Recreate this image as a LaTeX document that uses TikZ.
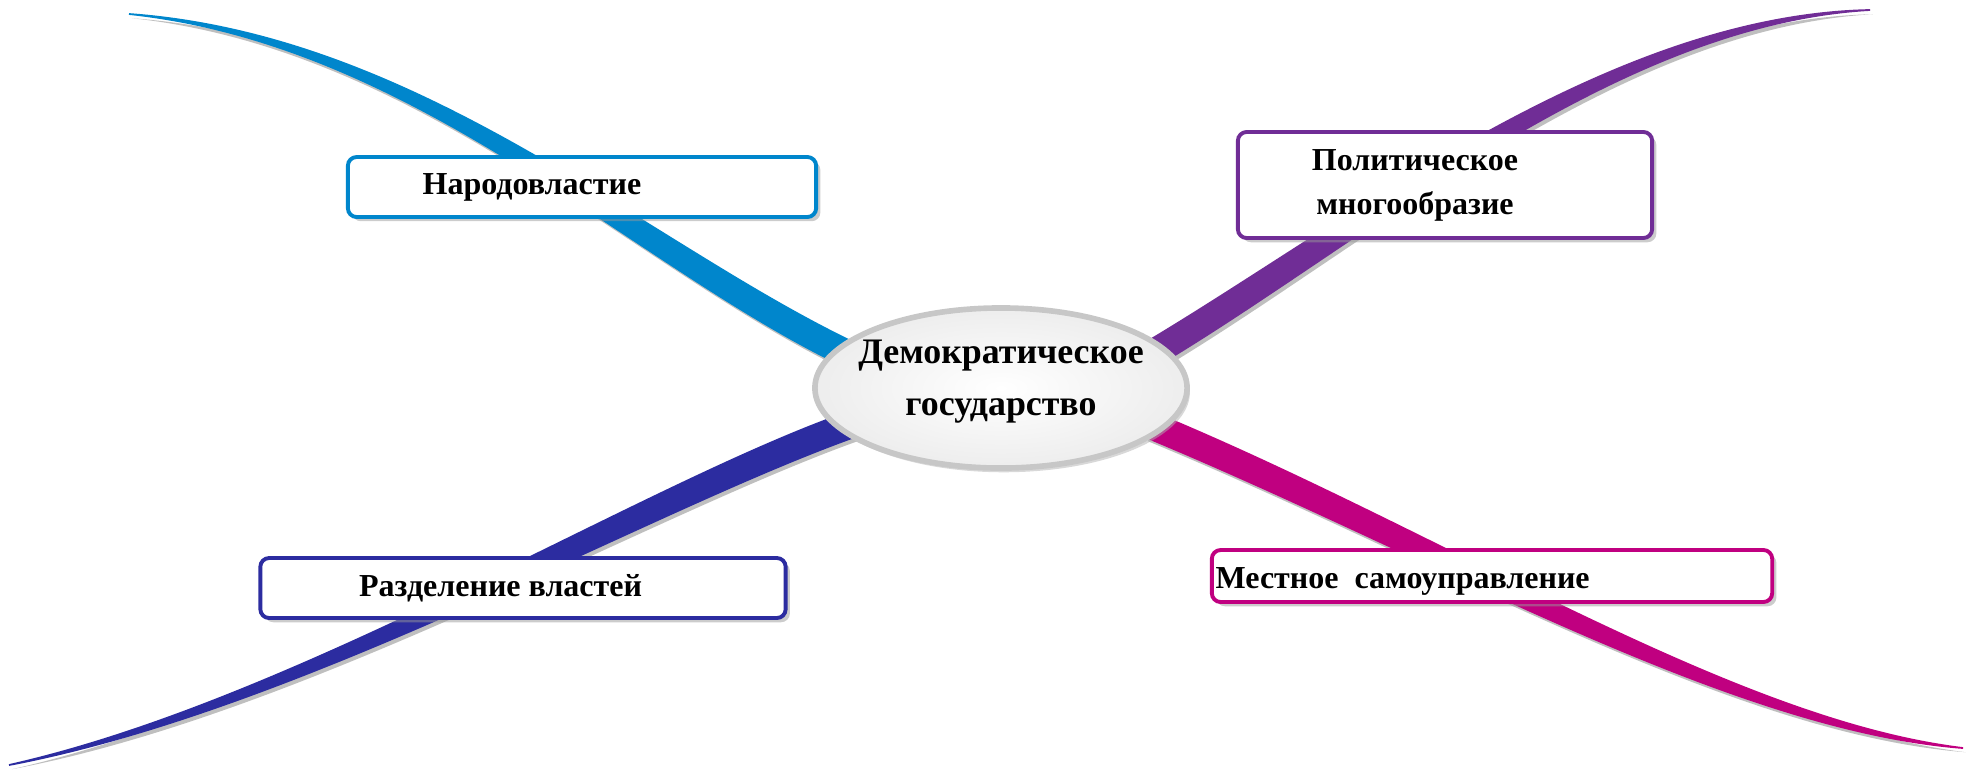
\documentclass[tikz,border=0pt]{standalone}
\usepackage{fontspec}
\setmainfont{Liberation Serif}
\usetikzlibrary{calc,positioning,shapes.geometric,shadows}

\definecolor{nbblue}{RGB}{0,134,204}
\definecolor{pmpurple}{RGB}{112,45,150}
\definecolor{rvblue}{RGB}{44,44,160}
\definecolor{msmagenta}{RGB}{192,0,128}

\newcommand{\boxfont}{\fontsize{9.1}{12.5}\selectfont\bfseries}
\newcommand{\ctrfont}{\fontsize{10.2}{14.8}\selectfont\bfseries}

\tikzstyle{mapbox}=[rectangle,draw,fill=white,line width=1.1pt,rounded corners=2.5pt,inner sep=0pt,drop shadow={shadow xshift=1.2pt,shadow yshift=-1.2pt,fill=black!40}]
\tikzstyle{mapcentre}=[ellipse,draw=black!22,line width=1.6pt,inner color=white,outer color=black!7,minimum width=3.72cm,minimum height=1.6cm,inner sep=0pt,drop shadow={shadow xshift=0.8pt,shadow yshift=-1.2pt,fill=black!30}]
\tikzstyle{lbl}=[inner sep=0pt,font=\boxfont]
\tikzstyle{ctrlbl}=[inner sep=0pt,font=\ctrfont,align=center]

% colour, free end, control 1, control 2, root, half width
\newcommand{\drawbranch}[6][black]{
	\filldraw[#1,line width=0.5pt,preaction={fill=black!25,transform canvas={xshift=0.8pt,yshift=-1.2pt}}]
		(#2) .. controls ($(#3)+0.4*(#6)$) and ($(#4)+(#6)$) .. ($(#5)+(#6)$)
		-- ($(#5)-(#6)$) .. controls ($(#4)-(#6)$) and ($(#3)-0.4*(#6)$) .. (#2) -- cycle;
}

\begin{document}
\begin{tikzpicture}[x=0.01cm,y=-0.01cm]
\useasboundingbox (0,0) rectangle (1967,769);

\coordinate (ctr) at (1001,388);
% free ends
\coordinate (nb-end) at (129,14);
\coordinate (pm-end) at (1870,10);
\coordinate (rv-end) at (9,765);
\coordinate (ms-end) at (1963,748);
% roots under the ellipse
\coordinate (nb-root) at ($(ctr)+(-151,-33)$);
\coordinate (pm-root) at ($(ctr)+(149,-33)$);
\coordinate (rv-root) at ($(ctr)+(-151,37)$);
\coordinate (ms-root) at ($(ctr)+(149,37)$);

\drawbranch[nbblue]{nb-end}{420,40}{640,255}{nb-root}{-5.6,11.7}
\drawbranch[pmpurple]{pm-end}{1610,20}{1360,230}{pm-root}{6.6,11.2}
\drawbranch[rvblue]{rv-end}{299,705}{640,500}{rv-root}{5.6,11.7}
\drawbranch[msmagenta]{ms-end}{1730,725}{1440,545}{ms-root}{-4.9,12}

% centre
\node[mapcentre] (dg) at (ctr) {};
\node[ctrlbl] (dg-t) at ($(ctr)+(0,-6)$) {Демократическое\\государство};

% boxes
\node[mapbox,draw=nbblue,minimum width=4.68cm,minimum height=0.6cm] (nb) at (582,187) {};
\node[lbl,right=0.76cm of nb.west] (nb-t) {Народовластие};

\node[mapbox,draw=pmpurple,minimum width=4.14cm,minimum height=1.06cm] (pm) at (1445,185) {};
\node[lbl,align=center] (pm-t) at ($(pm.center)+(-30,0)$) {Политическое\\многообразие};

\node[mapbox,draw=rvblue,minimum width=5.25cm,minimum height=0.6cm] (rv) at (523,588) {};
\node[lbl,right=1.0cm of rv.west] (rv-t) {Разделение властей};

\node[mapbox,draw=msmagenta,minimum width=5.6cm,minimum height=0.52cm] (ms) at (1492,576) {};
\node[lbl,right=0.05cm of ms.west,yshift=-0.05cm] (ms-t) {Местное~~самоуправление};
\end{tikzpicture}
\end{document}
